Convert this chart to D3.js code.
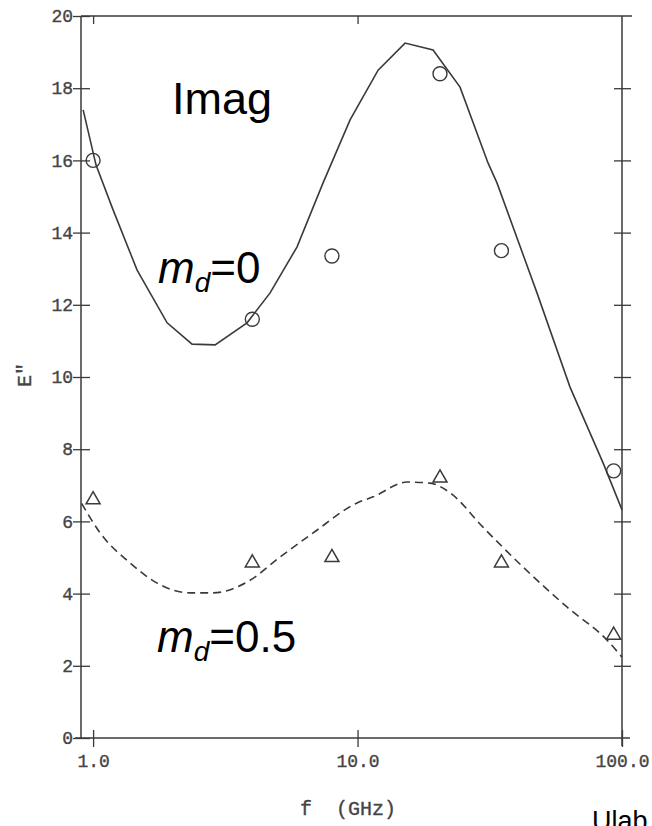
<!DOCTYPE html>
<html><head><meta charset="utf-8">
<script src="https://cdn.jsdelivr.net/npm/d3@7"></script>
<style>
html,body{margin:0;padding:0;background:#fff;}
svg{display:block;}
</style></head>
<body>
<script>
// ---- data ----
const pointFreqs = [1.0, 4.0, 8.0, 20.5, 35, 93];
const circleVals = [16.0, 11.6, 13.35, 18.4, 13.5, 7.4];   // m_d = 0
const triVals    = [6.6, 4.85, 5.0, 7.2, 4.85, 2.85];      // m_d = 0.5

const solidFreqs = [0.917, 1.026, 1.19, 1.467, 1.905, 2.367, 2.893, 3.82, 4.67, 5.90, 7.40, 9.37, 11.96, 15.12, 19.30, 24.41, 31.14, 33.7, 47.7, 63.6, 84.8, 100];
const solidVals  = [17.4, 15.87, 14.63, 12.96, 11.5, 10.91, 10.89, 11.5, 12.33, 13.6, 15.37, 17.12, 18.5, 19.25, 19.06, 18.03, 15.93, 15.37, 12.33, 9.72, 7.62, 6.32];

const dashFreqs = [0.905, 1.063, 1.38, 1.746, 2.33, 2.84, 3.82, 5.09, 6.79, 9.96, 11.45, 15.4, 18.8, 22.4, 29.8, 42.2, 61.9, 87.8, 100];
const dashVals  = [6.5, 5.68, 4.85, 4.29, 4.02, 4.02, 4.32, 5.01, 5.68, 6.51, 6.68, 7.09, 7.06, 6.79, 5.84, 4.74, 3.63, 2.71, 2.24];

const xTickVals = [1, 10, 100];
const xTickLabels = ["1.0", "10.0", "100.0"];
const yTickVals = [0, 2, 4, 6, 8, 10, 12, 14, 16, 18, 20];

// ---- layout ----
const W = 652, H = 826;
const svg = d3.select("body").append("svg").attr("width", W).attr("height", H);

const x = d3.scaleLog().domain([0.9, 100]).range([81, 622]);
const y = d3.scaleLinear().domain([0, 20]).range([738, 16]);

const ink = "#3a3a3a";
const mono = "'Courier New','Liberation Mono',monospace";

// frame
const frame = svg.append("g").attr("stroke", ink).attr("stroke-width", 1.5).attr("fill", "none");
frame.append("line").attr("x1", x.range()[0]).attr("x2", x.range()[0]).attr("y1", y(20)).attr("y2", y(0));
frame.append("line").attr("x1", x.range()[1]).attr("x2", x.range()[1]).attr("y1", y(20)).attr("y2", y(0) + 8);
frame.append("line").attr("x1", x.range()[0] - 6).attr("x2", x.range()[1] + 8).attr("y1", y(0)).attr("y2", y(0));
frame.append("line").attr("x1", x.range()[0]).attr("x2", x.range()[1] + 10).attr("y1", y(20)).attr("y2", y(20));

// left axis: ticks crossing the axis
const leftAxis = d3.axisLeft(y).tickValues(yTickVals).tickFormat(d3.format("d")).tickSizeInner(8).tickSizeOuter(0).tickPadding(1);
const gL = svg.append("g").attr("transform", `translate(${x.range()[0]},0)`).call(leftAxis);
gL.select(".domain").remove();
gL.selectAll(".tick line").attr("x2", 9).attr("x1", -8).attr("stroke", ink).attr("stroke-width", 1.3);
gL.selectAll(".tick text").attr("font-family", mono).attr("font-size", 18).attr("fill", "#444")
  .attr("stroke", "#444").attr("stroke-width", 0.35).attr("x", -8);

// right axis ticks (no labels)
const rightAxis = d3.axisRight(y).tickValues(yTickVals.slice(1, -1)).tickFormat("").tickSizeOuter(0);
const gR = svg.append("g").attr("transform", `translate(${x.range()[1]},0)`).call(rightAxis);
gR.select(".domain").remove();
gR.selectAll(".tick line").attr("x1", -8).attr("x2", 9).attr("stroke", ink).attr("stroke-width", 1.3);

// bottom axis
const bottomAxis = d3.axisBottom(x).tickValues(xTickVals).tickFormat((d, i) => xTickLabels[i]).tickSizeOuter(0).tickPadding(10);
const gB = svg.append("g").attr("transform", `translate(0,${y(0)})`).call(bottomAxis);
gB.select(".domain").remove();
gB.selectAll(".tick line").attr("y1", -8).attr("y2", 9).attr("stroke", ink).attr("stroke-width", 1.3);
gB.selectAll(".tick text").attr("font-family", mono).attr("font-size", 18).attr("fill", "#444")
  .attr("stroke", "#444").attr("stroke-width", 0.35);

// top axis ticks
const topAxis = d3.axisBottom(x).tickValues(xTickVals.slice(0, 2)).tickFormat("").tickSizeOuter(0).tickSize(8);
const gT = svg.append("g").attr("transform", `translate(0,${y(20)})`).call(topAxis);
gT.select(".domain").remove();
gT.selectAll(".tick line").attr("stroke", ink).attr("stroke-width", 1.3);

// curves
const solid = d3.zip(solidFreqs, solidVals);
const dashed = d3.zip(dashFreqs, dashVals);
svg.append("path").datum(solid)
  .attr("d", d3.line().x(d => x(d[0])).y(d => y(d[1])).curve(d3.curveLinear))
  .attr("fill", "none").attr("stroke", ink).attr("stroke-width", 1.6);
svg.append("path").datum(dashed)
  .attr("d", d3.line().x(d => x(d[0])).y(d => y(d[1])).curve(d3.curveMonotoneX))
  .attr("fill", "none").attr("stroke", ink).attr("stroke-width", 1.6).attr("stroke-dasharray", "8,5");

// markers
svg.append("g").selectAll("circle").data(d3.zip(pointFreqs, circleVals)).join("circle")
  .attr("cx", d => x(d[0])).attr("cy", d => y(d[1])).attr("r", 7)
  .attr("fill", "none").attr("stroke", ink).attr("stroke-width", 1.4);
const tri = d3.symbol().type(d3.symbolTriangle).size(85);
svg.append("g").selectAll("path").data(d3.zip(pointFreqs, triVals)).join("path")
  .attr("d", tri).attr("transform", d => `translate(${x(d[0])},${y(d[1])})`)
  .attr("fill", "none").attr("stroke", ink).attr("stroke-width", 1.5);

// axis titles
svg.append("text").attr("transform", "translate(31,375) rotate(-90)")
  .attr("text-anchor", "middle").attr("font-family", mono).attr("font-size", 20).attr("fill", "#444")
  .attr("stroke", "#444").attr("stroke-width", 0.35).text("E\"");
svg.append("text").attr("x", 300).attr("y", 815).attr("font-family", mono).attr("font-size", 20)
  .attr("fill", "#444").attr("stroke", "#444").attr("stroke-width", 0.35)
  .attr("xml:space", "preserve").style("white-space", "pre").text("f  (GHz)");

// annotations
const sans = "Arial,'Liberation Sans',sans-serif";
svg.append("text").attr("x", 172).attr("y", 114).attr("font-family", sans).attr("font-size", 45).attr("fill", "#000").text("Imag");

function mLabel(xp, yp, val) {
  const t = svg.append("text").attr("x", xp).attr("y", yp).attr("font-family", sans).attr("font-size", 44).attr("fill", "#000");
  t.append("tspan").attr("font-style", "italic").text("m");
  t.append("tspan").attr("font-style", "italic").attr("font-size", 28).attr("dy", 9).text("d");
  t.append("tspan").attr("dy", -9).text("=" + val);
}
mLabel(158, 283, "0");
mLabel(157, 652, "0.5");

svg.append("text").attr("x", 592).attr("y", 830).attr("font-family", sans).attr("font-size", 27).attr("fill", "#000").text("Ulab");
</script>
</body></html>
